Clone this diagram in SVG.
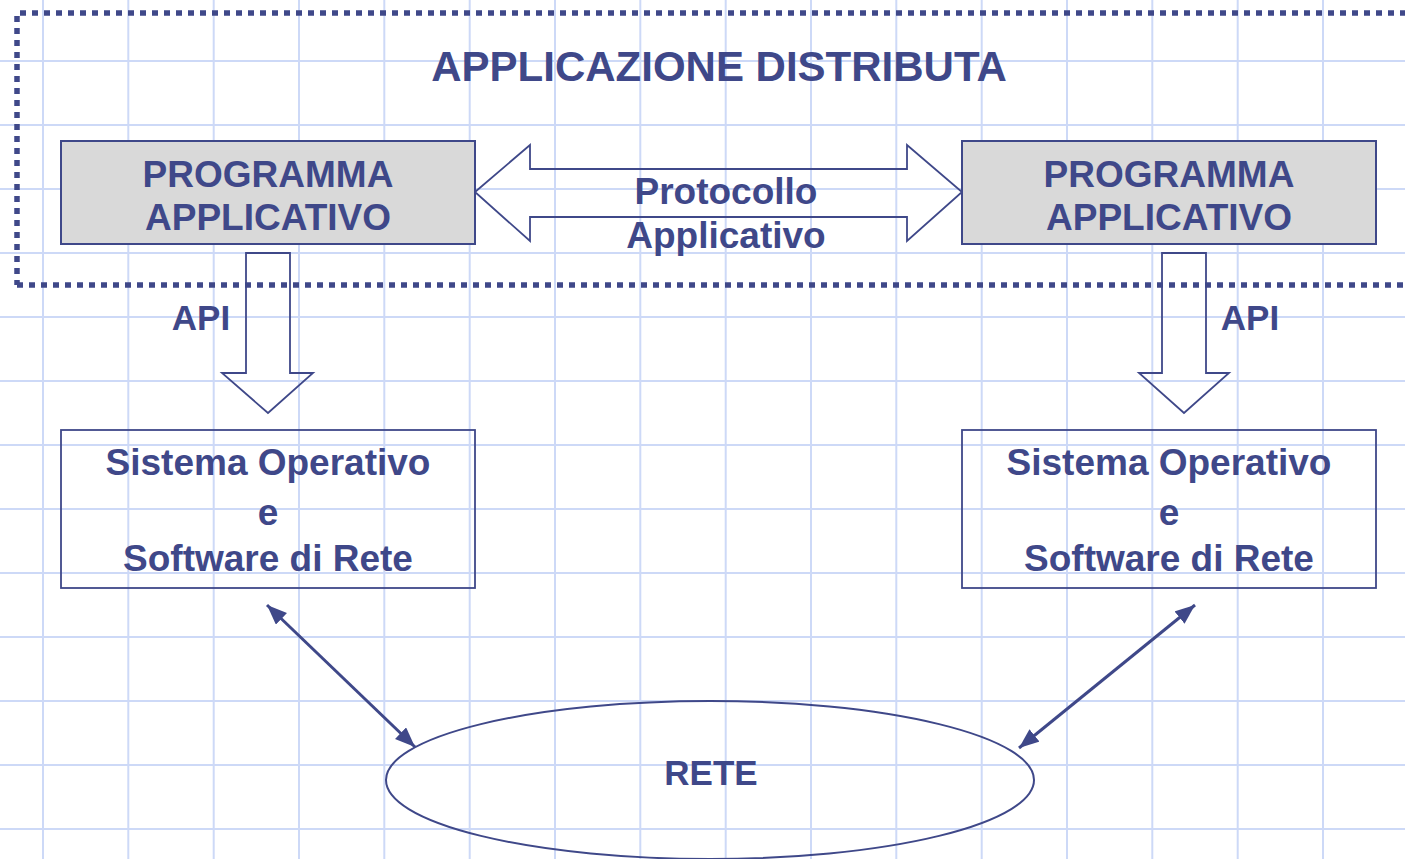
<svg xmlns="http://www.w3.org/2000/svg" width="1405" height="859" viewBox="0 0 1405 859">
<defs>
<style>
.grid line{stroke:#cdd9f7;stroke-width:2}
.t{font-family:"Liberation Sans",Arial,sans-serif;font-weight:bold;fill:#3f4889;text-anchor:middle}
.box{fill:none;stroke:#3f4889;stroke-width:1.8}
.prog{fill:#d9d9d9;stroke:#3f4889;stroke-width:2}
.hollow{fill:none;stroke:#3f4889;stroke-width:1.8;stroke-linejoin:miter}
.dot{fill:none;stroke:#3f4889;stroke-width:5.5;stroke-dasharray:6 6}
.conn{stroke:#3f4889;stroke-width:3;fill:none}
</style>
<marker id="ah" markerUnits="userSpaceOnUse" markerWidth="24" markerHeight="20" refX="20" refY="8" orient="auto-start-reverse">
<path d="M0,0 L20,8 L0,16 z" fill="#3f4889"/>
</marker>
</defs>
<rect width="1405" height="859" fill="#ffffff"/>
<g class="grid">
<line x1="43" y1="0" x2="43" y2="859"/>
<line x1="128.3" y1="0" x2="128.3" y2="859"/>
<line x1="213.7" y1="0" x2="213.7" y2="859"/>
<line x1="299" y1="0" x2="299" y2="859"/>
<line x1="384.3" y1="0" x2="384.3" y2="859"/>
<line x1="469.7" y1="0" x2="469.7" y2="859"/>
<line x1="555" y1="0" x2="555" y2="859"/>
<line x1="640.3" y1="0" x2="640.3" y2="859"/>
<line x1="725.7" y1="0" x2="725.7" y2="859"/>
<line x1="811" y1="0" x2="811" y2="859"/>
<line x1="896.3" y1="0" x2="896.3" y2="859"/>
<line x1="981.7" y1="0" x2="981.7" y2="859"/>
<line x1="1067" y1="0" x2="1067" y2="859"/>
<line x1="1152.3" y1="0" x2="1152.3" y2="859"/>
<line x1="1237.7" y1="0" x2="1237.7" y2="859"/>
<line x1="1323" y1="0" x2="1323" y2="859"/>
<line x1="0" y1="61" x2="1405" y2="61"/>
<line x1="0" y1="125" x2="1405" y2="125"/>
<line x1="0" y1="189" x2="1405" y2="189"/>
<line x1="0" y1="253" x2="1405" y2="253"/>
<line x1="0" y1="317" x2="1405" y2="317"/>
<line x1="0" y1="381" x2="1405" y2="381"/>
<line x1="0" y1="445" x2="1405" y2="445"/>
<line x1="0" y1="509" x2="1405" y2="509"/>
<line x1="0" y1="573" x2="1405" y2="573"/>
<line x1="0" y1="637" x2="1405" y2="637"/>
<line x1="0" y1="701" x2="1405" y2="701"/>
<line x1="0" y1="765" x2="1405" y2="765"/>
<line x1="0" y1="829" x2="1405" y2="829"/>
</g>
<g id="boundary">
<path class="dot" d="M20,13 L1405,13"/>
<path class="dot" d="M17,16 L17,285"/>
<path class="dot" d="M17,285 L1405,285"/>
<text class="t" x="719" y="81" font-size="42">APPLICAZIONE DISTRIBUTA</text>
</g>
<g id="connectors">
<polygon class="hollow" points="475,192 530,145 530,169 907,169 907,145 962,192 907,241 907,217 530,217 530,241"/>
<polygon class="hollow" points="246,253 290,253 290,373 313,373 268,413 222,373 246,373"/>
<polygon class="hollow" points="1162,253 1206,253 1206,373 1229,373 1184,413 1139,373 1162,373"/>
<line class="conn" x1="267" y1="605" x2="415" y2="747" marker-start="url(#ah)" marker-end="url(#ah)"/>
<line class="conn" x1="1195" y1="605" x2="1019" y2="748" marker-start="url(#ah)" marker-end="url(#ah)"/>
<text class="t" x="726" y="204" font-size="37">Protocollo</text>
<text class="t" x="726" y="248" font-size="37">Applicativo</text>
<text class="t" x="201" y="330" font-size="35">API</text>
<text class="t" x="1250" y="330" font-size="35">API</text>
</g>
<g id="prog-left">
<rect class="prog" x="61" y="141" width="414" height="103"/>
<text class="t" x="268" y="187" font-size="37">PROGRAMMA</text>
<text class="t" x="268" y="230" font-size="37">APPLICATIVO</text>
</g>
<g id="prog-right">
<rect class="prog" x="962" y="141" width="414" height="103"/>
<text class="t" x="1169" y="187" font-size="37">PROGRAMMA</text>
<text class="t" x="1169" y="230" font-size="37">APPLICATIVO</text>
</g>
<g id="os-left">
<rect class="box" x="61" y="430" width="414" height="158"/>
<text class="t" x="268" y="475" font-size="37">Sistema Operativo</text>
<text class="t" x="268" y="525" font-size="37">e</text>
<text class="t" x="268" y="571" font-size="37">Software di Rete</text>
</g>
<g id="os-right">
<rect class="box" x="962" y="430" width="414" height="158"/>
<text class="t" x="1169" y="475" font-size="37">Sistema Operativo</text>
<text class="t" x="1169" y="525" font-size="37">e</text>
<text class="t" x="1169" y="571" font-size="37">Software di Rete</text>
</g>
<g id="rete">
<ellipse cx="710" cy="780" rx="324" ry="79" fill="none" stroke="#3f4889" stroke-width="2"/>
<text class="t" x="711" y="785" font-size="35">RETE</text>
</g>
</svg>
